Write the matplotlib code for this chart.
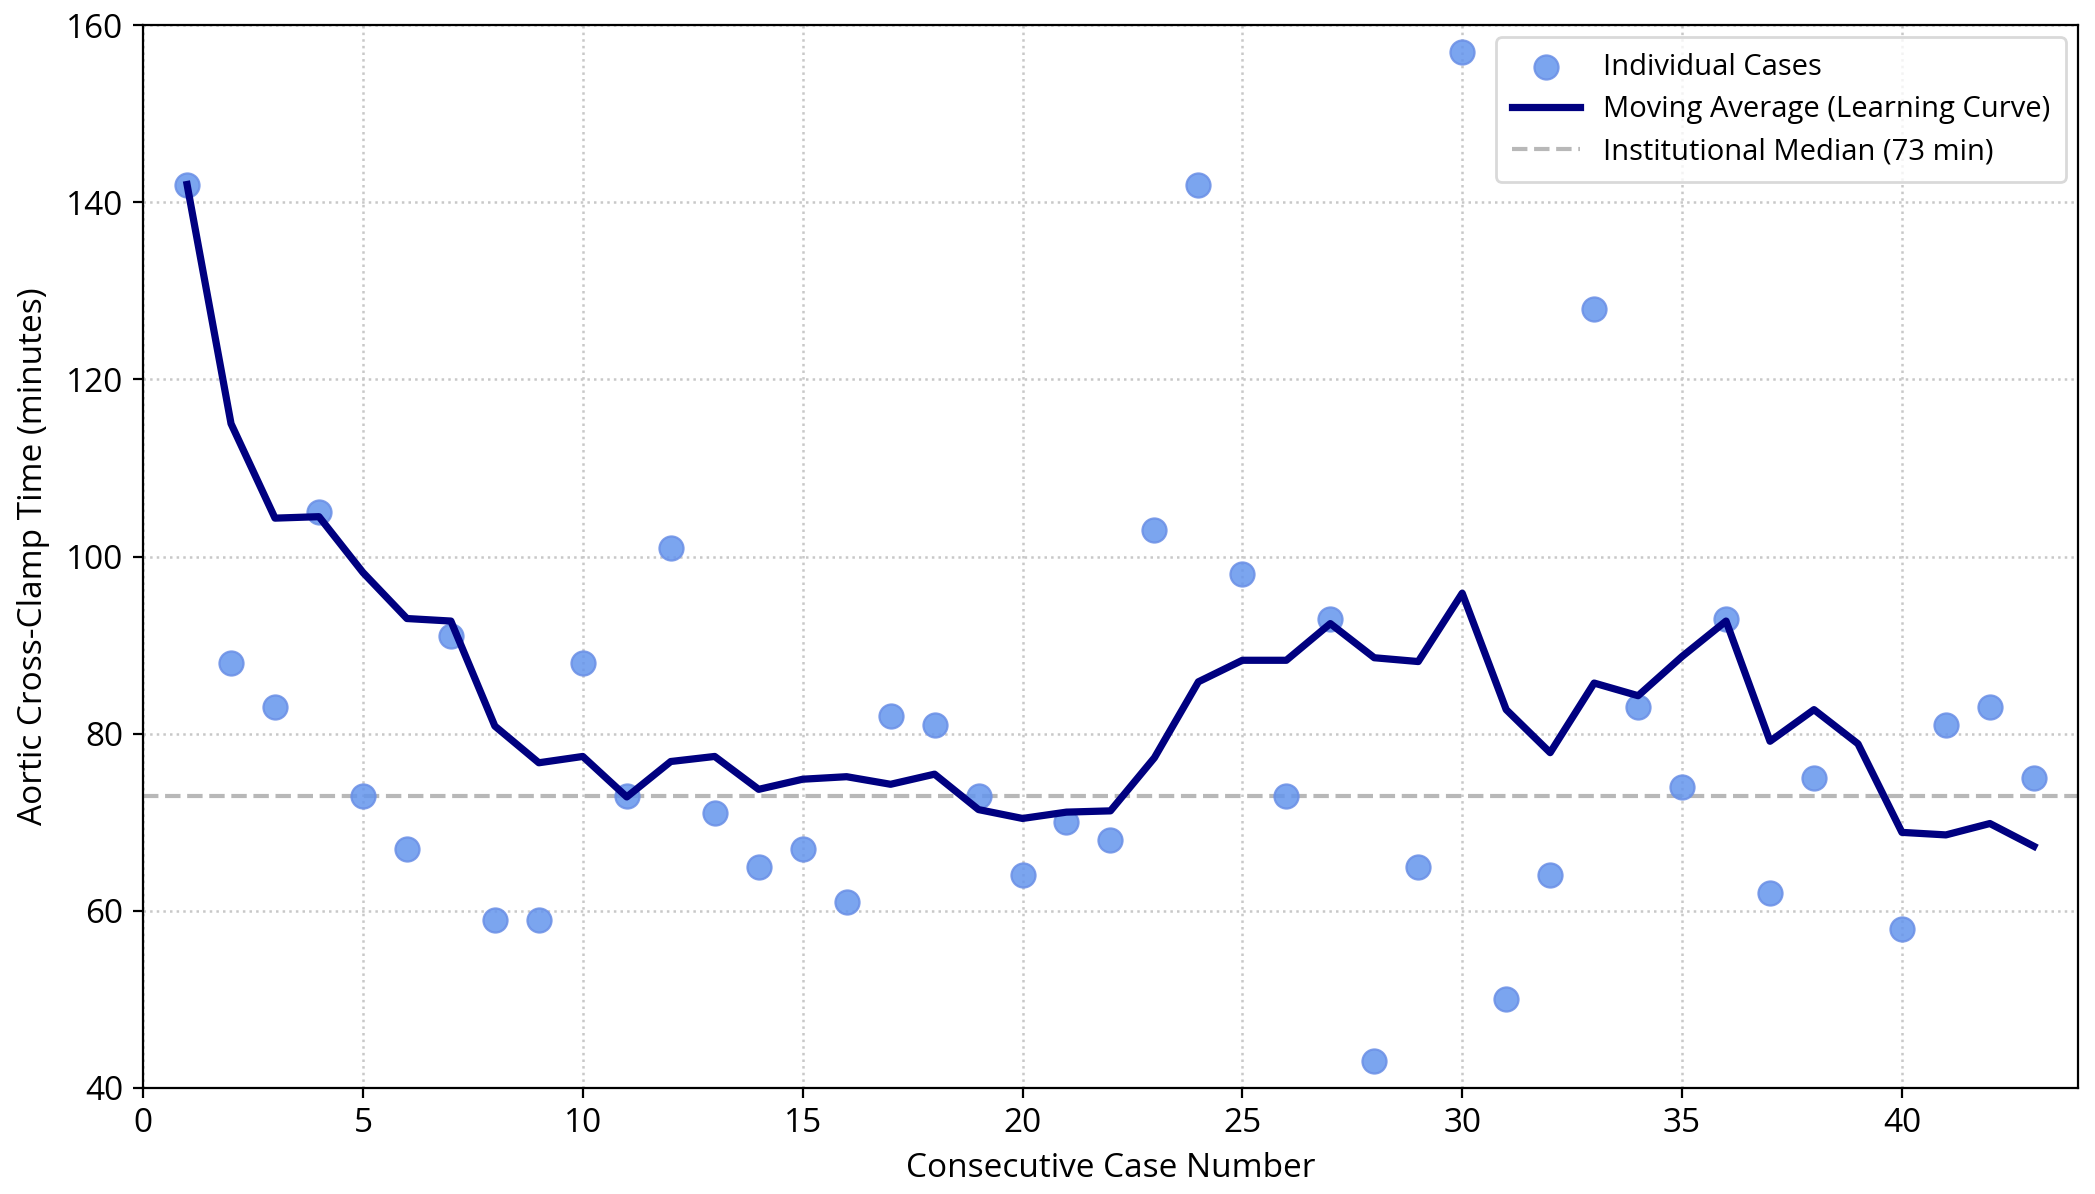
import numpy as np
import pandas as pd
import matplotlib
matplotlib.use('Agg')
import matplotlib.pyplot as plt

plt.rcParams['font.family'] = ['Open Sans', 'DejaVu Sans']
plt.rcParams['font.size'] = 12

# Aortic cross-clamp time per consecutive case (minutes)
case_numbers = np.arange(1, 44)
clamp_times = [142, 88, 83, 105, 73, 67, 91, 59, 59, 88,
               73, 101, 71, 65, 67, 61, 82, 81, 73, 64,
               70, 68, 103, 142, 98, 73, 93, 43, 65, 157,
               50, 64, 128, 83, 74, 93, 62, 75, 37, 58,
               81, 83, 75]
institutional_median = 73
window = 7

moving_avg = pd.Series(clamp_times).rolling(window, min_periods=1).mean()

fig = plt.figure(figsize=(10.475, 5.97), dpi=200, facecolor='white')
ax = fig.add_axes([0.0683, 0.0888, 0.9235, 0.8902])

ax.scatter(case_numbers, clamp_times, s=75, color='cornflowerblue', alpha=0.85,
           edgecolors='#6a8fe6', linewidths=0.8, label='Individual Cases', zorder=3)
ax.plot(case_numbers, moving_avg, color='navy', linewidth=2.6,
        label='Moving Average (Learning Curve)', zorder=4)
ax.axhline(institutional_median, color='#b8b8b8', linestyle='--', linewidth=1.5,
           label=f'Institutional Median ({institutional_median} min)', zorder=2)

ax.set_xlim(0, 44)
ax.set_ylim(40, 160)
ax.set_xticks(np.arange(0, 45, 5))
ax.set_yticks(np.arange(40, 161, 20))
ax.grid(True, linestyle=':', color='#c8c8c8', linewidth=0.9)
ax.set_axisbelow(True)

ax.set_xlabel('Consecutive Case Number', labelpad=4)
ax.set_ylabel('Aortic Cross-Clamp Time (minutes)', labelpad=6)

ax.legend(loc='upper right', frameon=True, edgecolor='#d0d0d0', fontsize=10.5,
          handlelength=2.3, borderpad=0.55, labelspacing=0.45, borderaxespad=0.4)

fig.savefig('out.png', dpi=200, facecolor='white')
plt.close(fig)
